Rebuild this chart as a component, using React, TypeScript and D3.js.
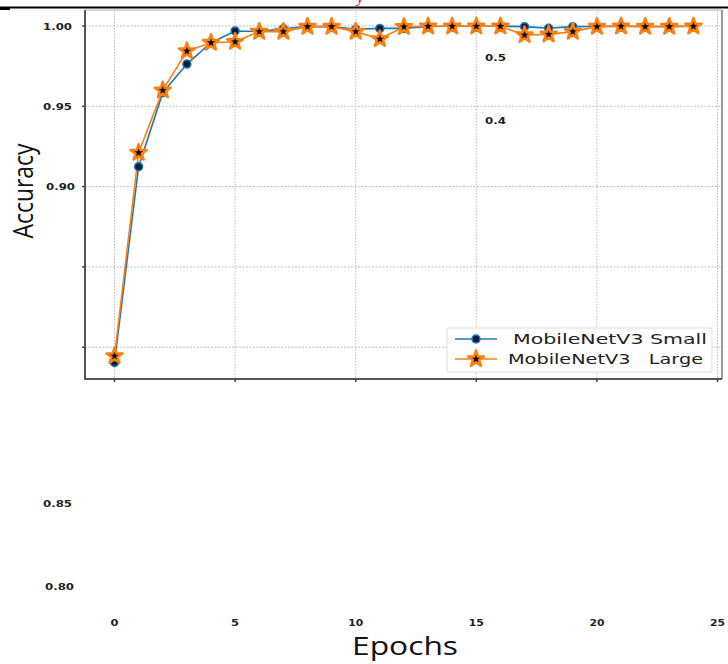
import React, { useEffect, useRef } from "react";
import * as d3 from "d3";

// epochs 0..24
const epochs = d3.range(0, 25);
const smallAcc = [
  0.7905, 0.9124, 0.9585, 0.9763, 0.9896, 0.9969, 0.9965, 0.9983, 0.9996, 0.9996,
  0.998, 0.9985, 0.9985, 0.9997, 0.9998, 0.9998, 0.9998, 0.9996, 0.9986, 0.9996,
  0.9997, 0.9998, 0.9997, 0.9997, 0.9998,
];
const largeAcc = [
  0.7945, 0.9211, 0.96, 0.9844, 0.9896, 0.9902, 0.9965, 0.9965, 0.9996, 0.9996,
  0.9965, 0.9919, 0.9995, 0.9998, 0.9998, 0.9998, 0.9998, 0.9944, 0.9948, 0.9965,
  0.9996, 0.9998, 0.9996, 0.9996, 0.9998,
];
const seriesNames = ["MobileNetV3 Small", "MobileNetV3   Large"];
const xTicks = [0, 5, 10, 15, 20, 25];
const yGridTicks = [1.0, 0.95, 0.9, 0.85, 0.8];
const yTickLabels = ["1.00", "0.95", "0.90"];
const strayYLabels = ["0.85", "0.80"];
const innerLabels = ["0.5", "0.4"];

function App() {
  const chart = useRef(null);

  useEffect(() => {
    const svg = d3.select(chart.current).attr("width", 728).attr("height", 664);
    const g = svg.append("g");

    const left = 85, right = 722, top = 10, bottom = 379;
    const x = d3.scaleLinear().domain([0, 25]).range([114.5, 717.5]);
    const y = d3.scaleLinear().domain([0.8, 1.0]).range([347.2, 26]);
    const blue = "#1f77b4";
    const orange = "#ff7f0e";
    const tickFont = "DejaVu Sans, sans-serif";

    // top rule of the page
    g.append("line").attr("x1", 0).attr("x2", 728).attr("y1", 7.5).attr("y2", 7.5)
      .attr("stroke", "#000").attr("stroke-width", 2);
    g.append("line").attr("x1", 0).attr("x2", 10).attr("y1", 9).attr("y2", 9)
      .attr("stroke", "#000").attr("stroke-width", 2);
    g.append("text").attr("x", 360).attr("y", 3).attr("text-anchor", "middle")
      .attr("font-family", "Liberation Serif, serif").attr("font-style", "italic")
      .attr("font-size", 14).attr("fill", "#e00").text("y");

    // grid
    g.selectAll(".vgrid").data(xTicks).enter().append("line")
      .attr("class", "vgrid")
      .attr("x1", d => x(d)).attr("x2", d => x(d)).attr("y1", top).attr("y2", bottom)
      .attr("stroke", "#bbb").attr("stroke-width", 1).attr("stroke-dasharray", "1.5,1.5");
    g.selectAll(".hgrid").data(yGridTicks).enter().append("line")
      .attr("class", "hgrid")
      .attr("x1", left).attr("x2", right).attr("y1", d => y(d)).attr("y2", d => y(d))
      .attr("stroke", "#bbb").attr("stroke-width", 1).attr("stroke-dasharray", "2,1.5");

    // frame
    g.append("line").attr("x1", left).attr("x2", right).attr("y1", top).attr("y2", top)
      .attr("stroke", "#ccc").attr("stroke-width", 1.5);
    g.append("line").attr("x1", right).attr("x2", right).attr("y1", top).attr("y2", bottom)
      .attr("stroke", "#999").attr("stroke-width", 2);
    g.append("line").attr("x1", left).attr("x2", left).attr("y1", top).attr("y2", bottom + 1)
      .attr("stroke", "#555").attr("stroke-width", 2);
    g.append("line").attr("x1", left - 1).attr("x2", right).attr("y1", bottom).attr("y2", bottom)
      .attr("stroke", "#555").attr("stroke-width", 2);

    // tick marks
    g.selectAll(".ytick").data(yGridTicks).enter().append("line")
      .attr("x1", left - 3).attr("x2", left).attr("y1", d => y(d)).attr("y2", d => y(d))
      .attr("stroke", "#444").attr("stroke-width", 1.5);
    g.selectAll(".xtick").data(xTicks).enter().append("line")
      .attr("x1", d => x(d)).attr("x2", d => x(d)).attr("y1", bottom).attr("y2", bottom + 3)
      .attr("stroke", "#444").attr("stroke-width", 1.5);

    // y tick labels
    g.selectAll(".ylab").data(yTickLabels).enter().append("text")
      .attr("x", (d, i) => (i === 2 ? 75 : 72)).attr("y", (d, i) => y(yGridTicks[i]) + 3.5)
      .attr("text-anchor", "end").attr("font-family", tickFont).attr("font-size", 9)
      .attr("font-weight", 600).attr("fill", "#222")
      .attr("textLength", 29).attr("lengthAdjust", "spacingAndGlyphs").text(d => d);
    // displaced labels
    g.selectAll(".ystray").data(strayYLabels).enter().append("text")
      .attr("x", (d, i) => 43 + i * 2).attr("y", (d, i) => 507 + i * 83)
      .attr("font-family", tickFont).attr("font-size", 9)
      .attr("font-weight", 600).attr("fill", "#222")
      .attr("textLength", 29).attr("lengthAdjust", "spacingAndGlyphs").text(d => d);
    g.selectAll(".yinner").data(innerLabels).enter().append("text")
      .attr("x", 485).attr("y", (d, i) => 61 + i * 63)
      .attr("font-family", tickFont).attr("font-size", 9)
      .attr("font-weight", 600).attr("fill", "#222")
      .attr("textLength", 21).attr("lengthAdjust", "spacingAndGlyphs").text(d => d);

    // x tick labels (pushed below)
    g.selectAll(".xlab").data(xTicks).enter().append("text")
      .attr("x", d => x(d)).attr("y", 626).attr("text-anchor", "middle")
      .attr("font-family", tickFont).attr("font-size", 9)
      .attr("font-weight", 600).attr("fill", "#222")
      .attr("textLength", d => (d < 10 ? 8 : 15)).attr("lengthAdjust", "spacingAndGlyphs")
      .text(d => d);

    // axis titles
    g.append("text").attr("x", 405).attr("y", 655).attr("text-anchor", "middle")
      .attr("font-family", "Open Sans, sans-serif").attr("font-size", 25).attr("fill", "#111")
      .attr("textLength", 106).attr("lengthAdjust", "spacingAndGlyphs").text("Epochs");
    g.append("text").attr("transform", "translate(33,191) rotate(-90)")
      .attr("text-anchor", "middle")
      .attr("font-family", "Open Sans, sans-serif").attr("font-size", 27).attr("fill", "#111")
      .attr("textLength", 95).attr("lengthAdjust", "spacingAndGlyphs").text("Accuracy");

    // lines
    const line = d3.line().x((d, i) => x(epochs[i])).y(d => y(d));
    g.append("path").datum(smallAcc).attr("d", line)
      .attr("fill", "none").attr("stroke", blue).attr("stroke-width", 1.6);
    g.append("path").datum(largeAcc).attr("d", line)
      .attr("fill", "none").attr("stroke", orange).attr("stroke-width", 1.6);

    // markers
    g.selectAll(".sm").data(smallAcc).enter().append("circle")
      .attr("cx", (d, i) => x(epochs[i])).attr("cy", d => y(d)).attr("r", 4)
      .attr("fill", "#0b1f3a").attr("stroke", blue).attr("stroke-width", 1.5);
    const star = d3.symbol().type(d3.symbolStar).size(80);
    g.selectAll(".lg").data(largeAcc).enter().append("path")
      .attr("d", star)
      .attr("transform", (d, i) => "translate(" + x(epochs[i]) + "," + y(d) + ")")
      .attr("fill", "#111").attr("stroke", orange).attr("stroke-width", 2.5)
      .attr("stroke-linejoin", "round");

    // legend
    const lg = g.append("g").attr("transform", "translate(447,328)");
    lg.append("rect").attr("width", 265).attr("height", 44).attr("rx", 2)
      .attr("fill", "#fff").attr("fill-opacity", 0.85).attr("stroke", "#ddd");
    const rowY = [11, 31];
    const colors = [blue, orange];
    seriesNames.forEach((name, i) => {
      lg.append("line").attr("x1", 8).attr("x2", 50).attr("y1", rowY[i]).attr("y2", rowY[i])
        .attr("stroke", colors[i]).attr("stroke-width", 1.6);
      if (i === 0) {
        lg.append("circle").attr("cx", 29).attr("cy", rowY[i]).attr("r", 4)
          .attr("fill", "#0b1f3a").attr("stroke", blue).attr("stroke-width", 1.5);
      } else {
        lg.append("path").attr("d", star).attr("transform", "translate(29," + rowY[i] + ")")
          .attr("fill", "#111").attr("stroke", orange).attr("stroke-width", 2.5)
          .attr("stroke-linejoin", "round");
      }
      lg.append("text").attr("x", i === 0 ? 66 : 61).attr("y", rowY[i] + 5)
        .attr("font-family", tickFont).attr("font-size", 14).attr("fill", "#222")
        .style("white-space", "pre")
        .attr("textLength", i === 0 ? 194 : 195).attr("lengthAdjust", "spacingAndGlyphs")
        .text(name);
    });

    return () => {
      svg.selectAll("*").remove();
    };
  }, []);

  return (
    <div style={{ position: "absolute", left: 0, top: 0 }}>
      <svg ref={chart} style={{ display: "block", background: "#fff" }}></svg>
    </div>
  );
}

export default App;
